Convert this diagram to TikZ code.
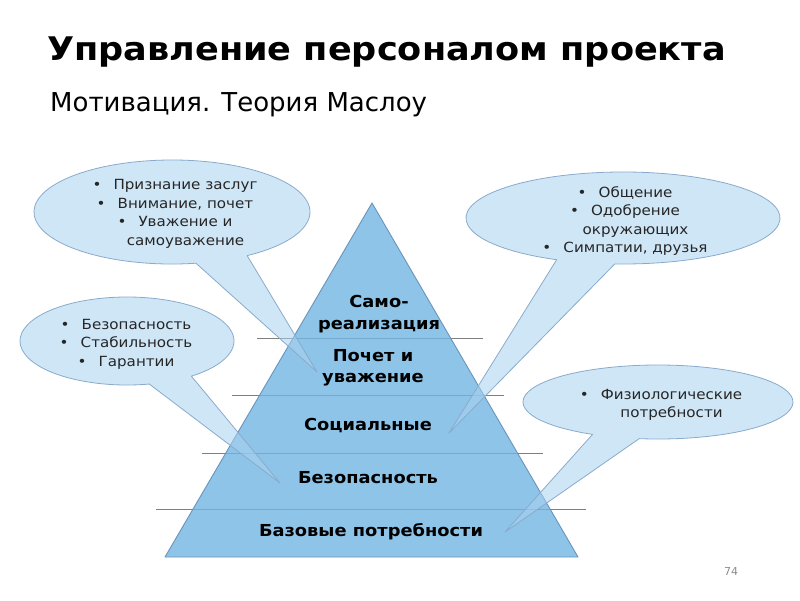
\documentclass[tikz,border=0pt]{standalone}
\usepackage{fontspec}
\setmainfont{DejaVu Sans}
\newfontfamily\widefont[FakeStretch=1.08]{DejaVu Sans}
\usetikzlibrary{calc}
\definecolor{pyrfill}{HTML}{72B5E2}
\definecolor{pyredge}{HTML}{6A93BC}
\definecolor{callfill}{HTML}{A8D2F0}
\definecolor{calledge}{HTML}{8AAACB}
\definecolor{rulegray}{HTML}{7F7F7F}
\definecolor{numgray}{HTML}{8C8C8C}
\newcommand\bul{\makebox[21pt][l]{•}}
\newcommand\nob{\hspace{21pt}}
\tikzset{
  callout/.style={fill=callfill, fill opacity=0.55, draw=calledge, line width=0.8pt, line join=round},
  bultext/.style={align=center, text=black!85, font=\widefont\fontsize{14}{18.5}\selectfont, inner sep=0pt},
  pyrlabel/.style={align=center, font=\widefont\bfseries\fontsize{16.5}{21.5}\selectfont, inner sep=0pt},
  tierline/.style={draw=rulegray, line width=0.8pt},
}
\begin{document}
\begin{tikzpicture}[x=1pt,y=-1pt]
\useasboundingbox (0,0) rectangle (800,600);
% title
\node[anchor=base west, inner sep=0pt, font=\widefont\bfseries\fontsize{32.5}{38}\selectfont] (title) at (47,60) {Управление персоналом проекта};
\node[anchor=base west, inner sep=0pt, font=\fontsize{26}{30}\selectfont] (sub) at (50,111) {Мотивация. Теория Маслоу};
% tier lines
\coordinate (l1a) at (257,338); \coordinate (l1b) at (483,338);
\coordinate (l2a) at (232,395); \coordinate (l2b) at (504,395);
\coordinate (l3a) at (202,453); \coordinate (l3b) at (543,453);
\coordinate (l4a) at (156,509); \coordinate (l4b) at (586,509);
\draw[tierline] (l1a) -- (l1b);
\draw[tierline] (l2a) -- (l2b);
\draw[tierline] (l3a) -- (l3b);
\draw[tierline] (l4a) -- (l4b);
% pyramid
\coordinate (apex) at (372,203);
\coordinate (bl) at (165,557);
\coordinate (br) at (578,557);
\path[fill=pyrfill, fill opacity=0.8, draw=pyredge, line width=0.9pt, line join=round] (apex) -- (br) -- (bl) -- cycle;
% callouts
\coordinate (c1) at (172,212); \coordinate (t1) at (317,372);
\path[callout] (t1) -- ($(c1)+(80:138 and 52)$) arc[start angle=80, end angle=417, x radius=138, y radius=52] -- cycle;
\coordinate (c2) at (127,341); \coordinate (t2) at (280,483);
\path[callout] (t2) -- ($(c2)+(78:107 and 44)$) arc[start angle=78, end angle=413, x radius=107, y radius=44] -- cycle;
\coordinate (c3) at (623,218); \coordinate (t3) at (449,433);
\path[callout] (t3) -- ($(c3)+(115:157 and 46)$) arc[start angle=115, end angle=453, x radius=157, y radius=46] -- cycle;
\coordinate (c4) at (658,402); \coordinate (t4) at (505,532);
\path[callout] (t4) -- ($(c4)+(119:135 and 37)$) arc[start angle=119, end angle=458, x radius=135, y radius=37] -- cycle;
% callout texts
\node[bultext] (b1) at (175,214) {\bul Признание заслуг\\ \bul Внимание, почет\\ \bul Уважение и\\ \nob самоуважение};
\node[bultext] (b2) at (126,344) {\bul Безопасность\\ \bul Стабильность\\ \bul Гарантии};
\node[bultext] (b3) at (625,221) {\bul Общение\\ \bul Одобрение\\ \nob окружающих\\ \bul Симпатии, друзья};
\node[bultext] (b4) at (661,405) {\bul Физиологические\\ \nob потребности};
% pyramid labels
\node[pyrlabel] (p1) at (379,314) {Само-\\реализация};
\node[pyrlabel] (p2) at (373,368) {Почет и\\уважение};
\node[pyrlabel] (p3) at (368,426) {Социальные};
\node[pyrlabel] (p4) at (368,478) {Безопасность};
\node[pyrlabel] (p5) at (371,532) {Базовые потребности};
% page number
\node[text=numgray, font=\fontsize{11}{13}\selectfont, inner sep=0pt] (num) at (731,571) {74};
\end{tikzpicture}
\end{document}
